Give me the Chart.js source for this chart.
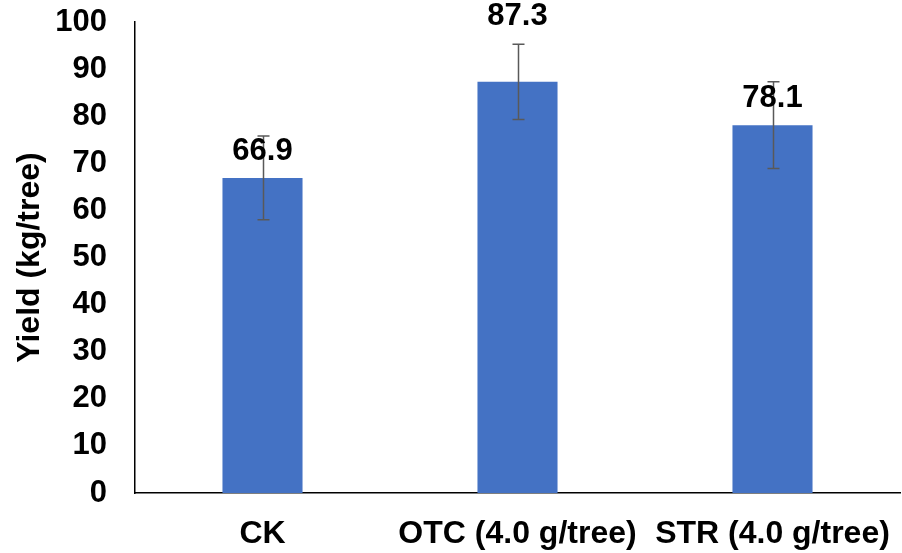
<!DOCTYPE html>
<html>
<head>
<meta charset="utf-8">
<script src="https://cdn.jsdelivr.net/npm/chart.js@4.4.1/dist/chart.umd.min.js"></script>
<style>
  html, body { margin: 0; padding: 0; background: #ffffff; }
  #wrap { width: 902px; height: 553px; }
</style>
</head>
<body>
<div id="wrap"><canvas id="c" width="902" height="553"></canvas></div>
<script>
// Yield per treatment, with standard error
const categories = ['CK', 'OTC (4.0 g/tree)', 'STR (4.0 g/tree)'];
const yieldValues = [66.9, 87.3, 78.1];
const yieldErrors = [8.9, 8.0, 9.2];
const yTicks = [0, 10, 20, 30, 40, 50, 60, 70, 80, 90, 100];

const FONT = '"Liberation Sans", Arial, Helvetica, sans-serif';

// Draws symmetric error bars centred on each bar's top
const errorBarPlugin = {
  id: 'errorBars',
  afterDatasetsDraw(chart, args, opts) {
    const ctx = chart.ctx;
    const meta = chart.getDatasetMeta(0);
    const y = chart.scales.y;
    ctx.save();
    ctx.strokeStyle = opts.color;
    ctx.lineWidth = opts.width;
    meta.data.forEach((bar, i) => {
      const v = yieldValues[i], e = yieldErrors[i];
      const x = Math.round(bar.x) + 0.5;
      const yHi = y.getPixelForValue(v + e);
      const yLo = y.getPixelForValue(v - e);
      ctx.beginPath();
      ctx.moveTo(x, yHi); ctx.lineTo(x, yLo);
      ctx.moveTo(x - opts.cap, yHi); ctx.lineTo(x + opts.cap, yHi);
      ctx.moveTo(x - opts.cap, yLo); ctx.lineTo(x + opts.cap, yLo);
      ctx.stroke();
    });
    ctx.restore();
  }
};

// Value labels above the bars
const valueLabelPlugin = {
  id: 'valueLabels',
  afterDraw(chart, args, opts) {
    const ctx = chart.ctx;
    const meta = chart.getDatasetMeta(0);
    ctx.save();
    ctx.font = opts.font;
    ctx.fillStyle = opts.color;
    ctx.textAlign = 'center';
    ctx.textBaseline = 'alphabetic';
    meta.data.forEach((bar, i) => {
      const lift = (opts.lift && opts.lift[i] != null) ? opts.lift[i] : opts.gap;
      ctx.fillText(yieldValues[i].toFixed(1), bar.x, bar.y - lift);
    });
    ctx.restore();
  }
};

new Chart(document.getElementById('c'), {
  type: 'bar',
  data: {
    labels: categories,
    datasets: [{
      data: yieldValues,
      backgroundColor: '#4472C4',
      borderWidth: 0,
      categoryPercentage: 1,
      barPercentage: 0.314
    }]
  },
  options: {
    responsive: false,
    animation: false,
    devicePixelRatio: 1,
    layout: { padding: { top: 22, right: 2, left: 11, bottom: 0 } },
    plugins: {
      legend: { display: false },
      tooltip: { enabled: false },
      errorBars: { color: '#595959', width: 1.5, cap: 6 },
      valueLabels: { font: 'bold 31px ' + FONT, color: '#000000', gap: 18, lift: [18, 57, 18] }
    },
    scales: {
      x: {
        grid: { display: false, drawTicks: false },
        border: { display: true, color: '#000000', width: 1.5 },
        ticks: { color: '#000000', font: { family: FONT, size: 32, weight: 'bold' }, padding: 22, maxRotation: 0, autoSkip: false },
        afterFit(scale) { scale.height = 60; scale.paddingLeft = 0; scale.paddingRight = 0; }
      },
      y: {
        min: 0, max: 100,
        afterBuildTicks(scale) { scale.ticks = yTicks.map(v => ({ value: v })); },
        grid: { display: false, drawTicks: false },
        border: { display: true, color: '#000000', width: 1.5 },
        ticks: { color: '#000000', font: { family: FONT, size: 31, weight: 'bold' }, padding: 28 },
        title: {
          display: true,
          text: 'Yield (kg/tree)',
          color: '#000000',
          font: { family: FONT, size: 32, weight: 'bold' },
          padding: { top: 0, bottom: 0 }
        },
        afterFit(scale) { scale.width = 124; scale.paddingTop = 0; scale.paddingBottom = 0; }
      }
    }
  },
  plugins: [errorBarPlugin, valueLabelPlugin]
});
</script>
</body>
</html>
